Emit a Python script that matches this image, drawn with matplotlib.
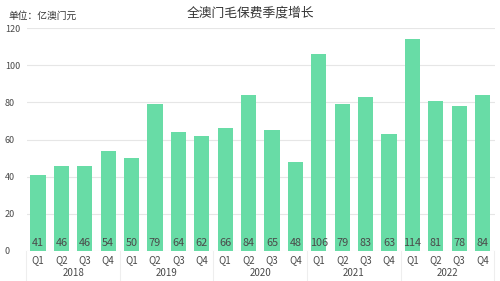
import matplotlib
matplotlib.use("Agg")
import matplotlib.pyplot as plt
import numpy as np

plt.rcParams['font.family'] = ['Noto Sans CJK SC', 'DejaVu Sans']

years = ["2018", "2019", "2020", "2021", "2022"]
quarters = ["Q1", "Q2", "Q3", "Q4"]
premiums = [41, 46, 46, 54, 50, 79, 64, 62, 66, 84, 65, 48, 106, 79, 83, 63, 114, 81, 78, 84]

bar_color = "#68DCA6"
text_color = "#4a4a4a"

fig = plt.figure(figsize=(5.0, 2.81), dpi=100)
ax = fig.add_axes([0.054, 0.107, 0.936, 0.793])

x = np.arange(len(premiums))
ax.bar(x, premiums, width=0.65, color=bar_color, zorder=2)

for xi, v in zip(x, premiums):
    ax.text(xi, 4.5, f"{v}", ha="center", va="center", fontsize=7.8,
            color=text_color, zorder=3)

ax.set_ylim(0, 120)
ax.set_xlim(-0.47, len(premiums) - 0.47)
ax.set_yticks(np.arange(0, 121, 20))
ax.yaxis.grid(True, color="#e6e6e6", linewidth=0.8, zorder=0)
ax.tick_params(axis="y", length=0, labelsize=6.5, labelcolor=text_color, pad=16)
for lbl in ax.get_yticklabels():
    lbl.set_horizontalalignment("left")

ax.set_xticks(x)
ax.set_xticklabels([q for _ in years for q in quarters])
ax.tick_params(axis="x", length=0, labelsize=7, labelcolor=text_color, pad=3)

for side in ax.spines.values():
    side.set_visible(False)

# year group labels and separators beneath the quarter labels
trans = ax.get_xaxis_transform()
for k, yr in enumerate(years):
    ax.text(4 * k + 1.5, -0.1, yr, transform=trans, ha="center", va="center",
            fontsize=7, color=text_color)
for k in range(len(years) + 1):
    ax.plot([4 * k - 0.5] * 2, [0, -0.14], transform=trans, color="#eeeeee",
            linewidth=0.8, clip_on=False)

fig.text(0.5, 0.955, "全澳门毛保费季度增长", ha="center", va="center",
         fontsize=9.2, color="#333333")
fig.text(0.016, 0.942, "单位：亿澳门元", ha="left", va="center",
         fontsize=7, color="#333333")

fig.savefig("out.png", dpi=100, facecolor="white")
